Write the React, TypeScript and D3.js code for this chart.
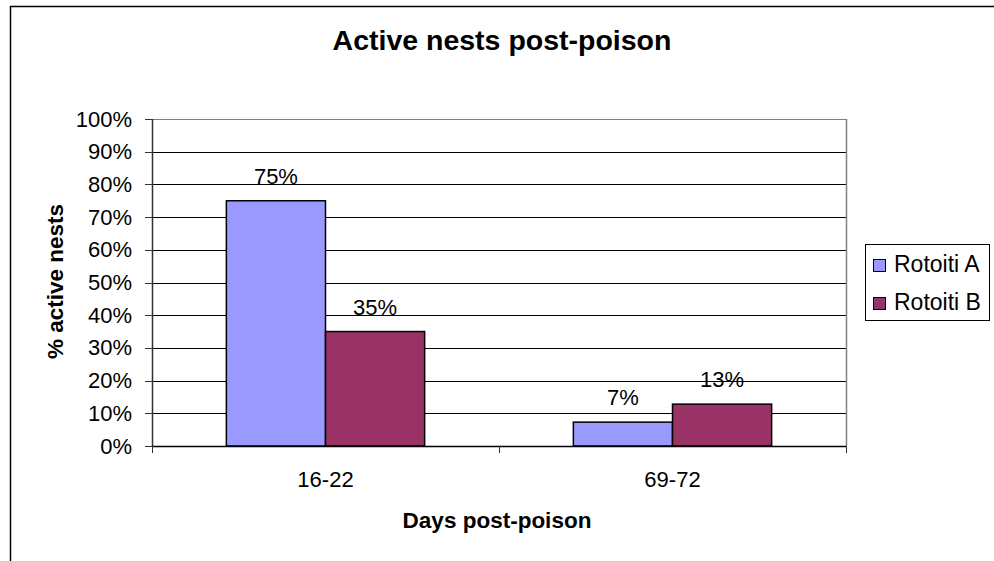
import React from "react";
import * as d3 from "d3";

const categories = ["16-22", "69-72"];
const seriesNames = ["Rotoiti A", "Rotoiti B"];
const seriesColors = ["#9999FF", "#993366"];
const valuesA = [75, 7.3];
const valuesB = [35, 12.8];
const labelsA = ["75%", "7%"];
const labelsB = ["35%", "13%"];
const yTicks = [0, 10, 20, 30, 40, 50, 60, 70, 80, 90, 100];

const W = 994;
const H = 561;
const plot = { left: 152, right: 846, top: 119, bottom: 446 };
const font = "Arial, 'Liberation Sans', sans-serif";

export default function App() {
  const y = d3.scaleLinear().domain([0, 100]).range([plot.bottom, plot.top]);
  const x = d3.scaleBand().domain(categories).range([plot.left, plot.right]).paddingInner(0).paddingOuter(0);
  // Excel gap width 150%: category = 3.5 * barWidth
  const bw = x.bandwidth() / 3.5;
  const series = [
    { name: seriesNames[0], values: valuesA, labels: labelsA, color: seriesColors[0] },
    { name: seriesNames[1], values: valuesB, labels: labelsB, color: seriesColors[1] },
  ];
  const barX = (ci: number, si: number) => (x(categories[ci]) as number) + x.bandwidth() / 2 - bw + si * bw;

  return (
    <svg width={W} height={H} style={{ position: "absolute", left: 0, top: 0, background: "#fff" }} fontFamily={font}>
      <rect x={0} y={0} width={W} height={H} fill="#fff" />
      {/* outer chart border */}
      <path d={`M10.5,${H + 2} L10.5,6.5 L${W + 2},6.5`} fill="none" stroke="#000" strokeWidth={1.5} />
      {/* title */}
      <text x={502} y={50} textAnchor="middle" fontSize={28.5} fontWeight="bold">Active nests post-poison</text>
      {/* gridlines */}
      {yTicks.map((t) => (
        <line key={"g" + t} x1={plot.left} x2={plot.right} y1={Math.round(y(t)) + 0.5} y2={Math.round(y(t)) + 0.5}
          stroke={t === 100 ? "#808080" : "#000"} strokeWidth={1} />
      ))}
      {/* plot right border */}
      <line x1={plot.right + 0.5} x2={plot.right + 0.5} y1={plot.top} y2={plot.bottom} stroke="#808080" strokeWidth={1.5} />
      {/* bars */}
      {series.map((s, si) =>
        s.values.map((v, ci) => (
          <rect key={s.name + ci} x={barX(ci, si)} y={y(v)} width={bw} height={y(0) - y(v)}
            fill={s.color} stroke="#000" strokeWidth={1.5} />
        ))
      )}
      {/* data labels */}
      {series.map((s, si) =>
        s.values.map((v, ci) => (
          <text key={"l" + s.name + ci} x={barX(ci, si) + bw / 2} y={y(v) - 17} textAnchor="middle" fontSize={22}>{s.labels[ci]}</text>
        ))
      )}
      {/* y axis */}
      <line x1={plot.left + 0.5} x2={plot.left + 0.5} y1={plot.top} y2={plot.bottom} stroke="#333" strokeWidth={1.5} />
      {yTicks.map((t) => (
        <g key={"t" + t}>
          <line x1={plot.left - 7} x2={plot.left} y1={Math.round(y(t)) + 0.5} y2={Math.round(y(t)) + 0.5} stroke="#333" />
          <text x={132} y={y(t) + 7.5} textAnchor="end" fontSize={22}>{t}%</text>
        </g>
      ))}
      {/* x axis */}
      <line x1={plot.left} x2={plot.right} y1={plot.bottom + 0.5} y2={plot.bottom + 0.5} stroke="#000" strokeWidth={1.5} />
      {[0, 1, 2].map((i) => {
        const xx = plot.left + i * x.bandwidth();
        return <line key={"xt" + i} x1={Math.round(xx) + 0.5} x2={Math.round(xx) + 0.5} y1={plot.bottom} y2={plot.bottom + 7} stroke="#333" />;
      })}
      {categories.map((c) => (
        <text key={c} x={(x(c) as number) + x.bandwidth() / 2} y={487} textAnchor="middle" fontSize={22}>{c}</text>
      ))}
      {/* axis titles */}
      <text x={497} y={528} textAnchor="middle" fontSize={22.5} fontWeight="bold">Days post-poison</text>
      <text transform={`translate(63,${281.5}) rotate(-90)`} textAnchor="middle" fontSize={22.5} fontWeight="bold">% active nests</text>
      {/* legend */}
      <rect x={865.5} y={244.5} width={124} height={76} fill="#fff" stroke="#000" strokeWidth={1} />
      {series.map((s, i) => (
        <g key={"lg" + s.name}>
          <rect x={873.5} y={259.5 + i * 38} width={12} height={12} fill={s.color} stroke="#000" strokeWidth={1} />
          <text x={894} y={272 + i * 38} fontSize={23}>{s.name}</text>
        </g>
      ))}
    </svg>
  );
}
